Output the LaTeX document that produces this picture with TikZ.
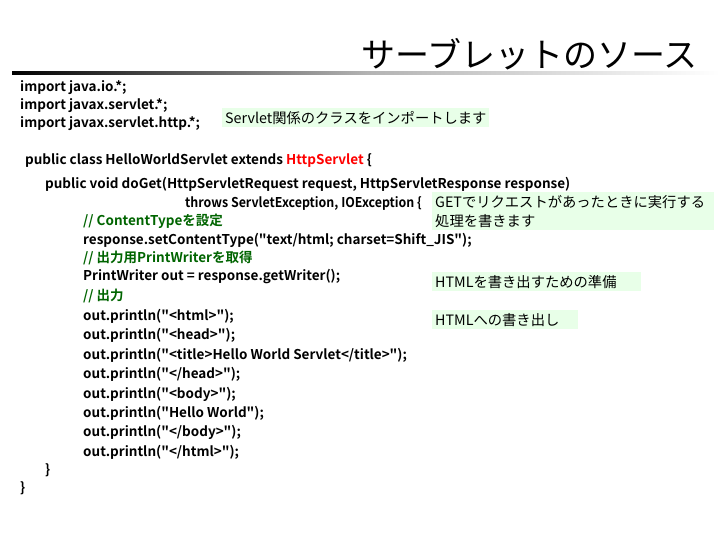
\documentclass[tikz,border=0pt]{standalone}
\usepackage{fontspec}
\usepackage{graphicx}
\newfontfamily\code{Noto Sans CJK JP Bold}
\newfontfamily\cjk{Noto Sans CJK JP}
\definecolor{cmt}{RGB}{0,100,0}
\definecolor{boxg}{RGB}{232,255,232}
\begin{document}
\begin{tikzpicture}[x=1pt,y=-1pt,
  cl/.style={anchor=west,inner sep=0pt,font=\code\fontsize{13.5}{14}\selectfont},
  note/.style={anchor=north west,fill=boxg,inner sep=3pt,align=left,font=\cjk\fontsize{14.3}{19}\selectfont}]
\useasboundingbox (0,0) rectangle (720,540);
\node[anchor=base east,inner sep=0pt,font=\cjk\fontsize{34}{34}\selectfont] (title) at (698,68) {サーブレットのソース};
\shade[left color=black,right color=white,middle color=gray!60] (12,72) rectangle (720,75);
\node[cl] (i1) at (20,88) {import java.io.*;};
\node[cl] (i2) at (20,106) {import javax.servlet.*;};
\node[cl] (i3) at (20,124) {import javax.servlet.http.*;};
\node[cl] (l1) at (25,160) {public class HelloWorldServlet extends \textcolor{red}{HttpServlet} \{};
\node[cl] (l2) at (45,184) {public void doGet(HttpServletRequest request, HttpServletResponse response)};
\node[cl] (l3) at (185,203) {\scalebox{0.92}[1]{throws ServletException, IOException \{}};
\node[cl,text=cmt] (l4) at (83,221) {// ContentTypeを設定};
\node[cl] (l5) at (83,240) {response.setContentType("text/html; charset=Shift\_JIS");};
\node[cl,text=cmt] (l6) at (83,258) {// 出力用PrintWriterを取得};
\node[cl] (l7) at (83,277) {PrintWriter out = response.getWriter();};
\node[cl,text=cmt] (l8) at (83,296) {// 出力};
\node[cl] (l9) at (83,316) {out.println("<html>");};
\node[cl] (l10) at (83,335) {out.println("<head>");};
\node[cl] (l11) at (83,355) {out.println("<title>Hello World Servlet</title>");};
\node[cl] (l12) at (83,374) {out.println("</head>");};
\node[cl] (l13) at (83,394) {out.println("<body>");};
\node[cl] (l14) at (83,413) {out.println("Hello World");};
\node[cl] (l15) at (83,432) {out.println("</body>");};
\node[cl] (l16) at (83,452) {out.println("</html>");};
\node[cl] (l17) at (45,470) {\}};
\node[cl] (l18) at (20,488) {\}};
\node[note] (n1) at (222,108) {Servlet関係のクラスをインポートします};
\node[note,text width=276pt] (n2) at (432,192) {GETでリクエストがあったときに実行する\\処理を書きます};
\node[note,text width=203pt] (n3) at (432,272) {HTMLを書き出すための準備};
\node[note,text width=140pt] (n4) at (432,310) {HTMLへの書き出し};
\end{tikzpicture}
\end{document}
